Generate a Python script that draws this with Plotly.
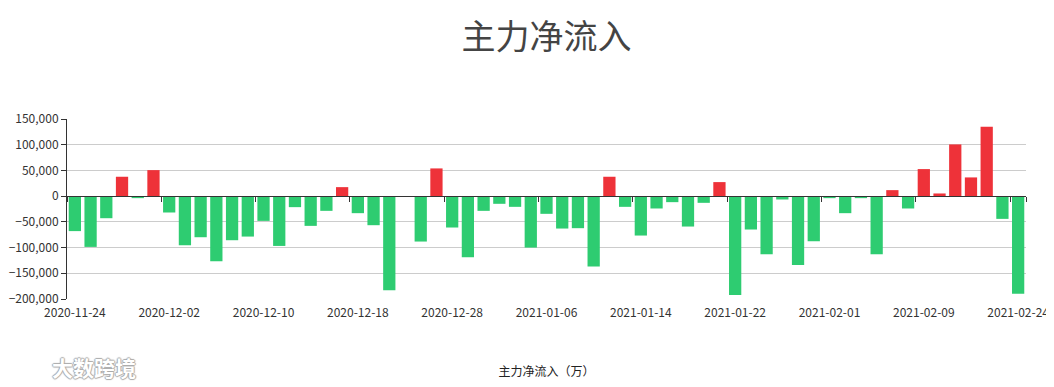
import plotly.graph_objects as go

dates = [
    "2020-11-24", "2020-11-25", "2020-11-26", "2020-11-27", "2020-11-30", "2020-12-01",
    "2020-12-02", "2020-12-03", "2020-12-04", "2020-12-07", "2020-12-08", "2020-12-09",
    "2020-12-10", "2020-12-11", "2020-12-14", "2020-12-15", "2020-12-16", "2020-12-17",
    "2020-12-18", "2020-12-21", "2020-12-22", "2020-12-23", "2020-12-24", "2020-12-25",
    "2020-12-28", "2020-12-29", "2020-12-30", "2020-12-31", "2021-01-04", "2021-01-05",
    "2021-01-06", "2021-01-07", "2021-01-08", "2021-01-11", "2021-01-12", "2021-01-13",
    "2021-01-14", "2021-01-15", "2021-01-18", "2021-01-19", "2021-01-20", "2021-01-21",
    "2021-01-22", "2021-01-25", "2021-01-26", "2021-01-27", "2021-01-28", "2021-01-29",
    "2021-02-01", "2021-02-02", "2021-02-03", "2021-02-04", "2021-02-05", "2021-02-08",
    "2021-02-09", "2021-02-10", "2021-02-18", "2021-02-19", "2021-02-22", "2021-02-23",
    "2021-02-24",
]

net_inflow = [
    -68000, -98700, -42900, 37700, -3900, 50600,
    -31800, -95500, -79900, -126600, -85700, -78600,
    -48100, -96800, -21400, -57800, -28600, 17500,
    -33100, -56500, -183100, 0, -88300, 53900,
    -61000, -118800, -28600, -14900, -20800, -100000,
    -34400, -63000, -62300, -137000, 37700, -20800,
    -76600, -24000, -11700, -59100, -13000, 27300,
    -192200, -64900, -113000, -6500, -133800, -87700,
    -3900, -33100, -3900, -113000, 11700, -24000,
    52600, 5200, 100600, 36400, 135100, -44200,
    -189600,
]

y_ticks = [-200000, -150000, -100000, -50000, 0, 50000, 100000, 150000]
x_tick_labels = dates[::6]

RED = "#ee3239"
GREEN = "#2ecc71"
colors = [RED if v > 0 else GREEN for v in net_inflow]

fig = go.Figure()
fig.add_trace(go.Bar(
    x=dates, y=net_inflow, marker=dict(color=colors, line=dict(width=0)),
    name="主力净流入", hovertemplate="%{x}<br>%{y:,}<extra></extra>",
))
# invisible trace carrying the zero-line axis ticks
fig.add_trace(go.Scatter(x=dates, y=[None] * len(dates), xaxis="x2",
                         showlegend=False, hoverinfo="skip"))

y_min, y_max = -200000, 150000
zero_pos = (0 - y_min) / (y_max - y_min)

fig.update_layout(
    width=1054, height=387,
    margin=dict(l=59, r=36, t=111, b=96, autoexpand=False),
    paper_bgcolor="white", plot_bgcolor="white",
    showlegend=False,
    bargap=0.22,
    font=dict(family="Noto Sans CJK SC, Microsoft YaHei, sans-serif", size=12, color="#333"),
    title=dict(text="主力净流入", x=0.5, xref="paper", xanchor="center",
               y=0.925, yref="container", yanchor="middle",
               font=dict(family="Noto Sans CJK SC", size=34, color="#444")),
    xaxis=dict(
        type="category", categoryorder="array", categoryarray=dates,
        range=[-0.5, len(dates) - 0.5], automargin=False,
        tickmode="array", tickvals=x_tick_labels, ticktext=x_tick_labels,
        ticks="outside", ticklen=3, tickcolor="rgba(0,0,0,0)",
        showline=False, showgrid=False, zeroline=False,
        tickfont=dict(size=12, color="#333"),
        title=dict(text="主力净流入（万）", standoff=48, font=dict(size=12, color="#222")),
    ),
    xaxis2=dict(
        type="category", categoryorder="array", categoryarray=dates,
        overlaying="x", matches="x", anchor="free", position=zero_pos,
        tickmode="array", tickvals=x_tick_labels, tickson="boundaries",
        ticks="outside", ticklen=5, tickcolor="#333", showticklabels=False,
        showline=True, linecolor="#333", linewidth=1, showgrid=False, zeroline=False,
    ),
    yaxis=dict(
        range=[y_min, y_max], tickmode="array", tickvals=y_ticks, automargin=False,
        tickformat=",d", ticks="outside", ticklen=5, tickcolor="#333",
        showline=True, linecolor="#333", linewidth=1,
        showgrid=True, gridcolor="#cccccc", gridwidth=1, zeroline=False,
        tickfont=dict(size=12, color="#333"),
    ),
    annotations=[dict(
        text="<b>大数跨境</b>", xref="paper", yref="paper", x=-0.0177, y=-0.378,
        xanchor="left", yanchor="middle", showarrow=False,
        font=dict(family="Noto Sans CJK SC", size=21, color="#ffffff",
                  shadow="1px 0 1px #aaa, -1px 0 1px #aaa, 0 1px 1px #aaa, 0 -1px 1px #aaa"),
    )],
)

fig.write_html("out.html")
